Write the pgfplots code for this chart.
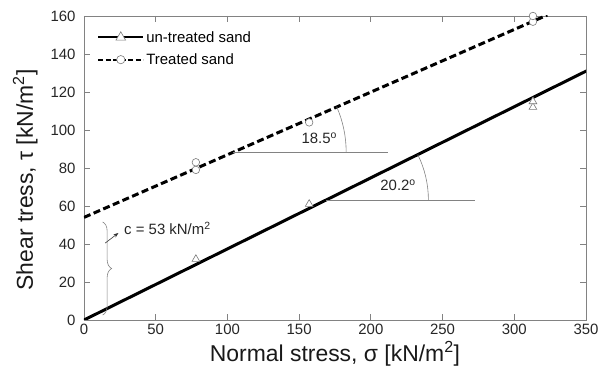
\documentclass[border=0pt]{standalone}
\usepackage{fontspec}
\setmainfont{Liberation Sans}
\usepackage{pgfplots}
\pgfplotsset{compat=1.18}
\usetikzlibrary{decorations.pathreplacing,arrows.meta}
\definecolor{axgray}{RGB}{130,130,130}
\definecolor{mkgray}{RGB}{120,120,120}
\begin{document}
\begin{tikzpicture}
\begin{axis}[
  scale only axis,
  width=502bp, height=304bp,
  xmin=0, xmax=350, ymin=0, ymax=160,
  xtick={0,50,...,350}, ytick={0,20,...,160},
  tick align=inside, major tick length=6bp,
  axis line style={axgray, line width=0.8pt},
  every tick/.style={axgray, line width=0.8pt},
  tick label style={font=\fontsize{15}{17}\selectfont, text=black!85},
  xticklabel style={yshift=-1bp},
  yticklabel style={xshift=-5bp},
  /pgf/number format/assume math mode=true,
  xlabel={Normal stress, σ [kN/m\textsuperscript{2}]},
  ylabel={Shear tress, τ [kN/m\textsuperscript{2}]},
  label style={font=\fontsize{23}{27}\selectfont, text=black!90},
  xlabel style={at={(axis description cs:0.5,0)}, anchor=base, yshift=-41bp},
  ylabel style={at={(axis description cs:-0.1016,0.4605)}, anchor=base, rotate=0},
  legend style={draw=none, fill=none, at={(rel axis cs:0,1)}, anchor=north west,
    xshift=10bp, yshift=-11bp,
    font=\fontsize{15}{17}\selectfont, row sep=6bp},
  legend cell align=left,
  legend image code/.code={
    \draw[#1] (0bp,0bp) -- (45bp,0bp);
    \draw[#1, mark repeat=1] plot coordinates {(22.5bp,0bp)};
  },
]
\addlegendimage{black, line width=2.2pt, mark=triangle*, mark options={solid, draw=mkgray, fill=white, line width=0.6pt, scale=1.6}, mark size=3.5pt}
\addlegendentry{un-treated sand}
\addlegendimage{black, line width=2.2pt, dash pattern=on 5bp off 2.5bp, mark=*, mark options={solid, draw=mkgray, fill=white, line width=0.6pt, scale=1.3}, mark size=3.2pt}
\addlegendentry{Treated sand}

% fitted lines
\addplot[black, line width=3bp, forget plot] coordinates {(0,0) (352,131.7)};
\addplot[black, line width=3bp, dash pattern=on 7bp off 3.5bp, forget plot] coordinates {(0,54) (323,160.5)};

% data points
\addplot[only marks, mark=triangle*, mark options={draw=mkgray, fill=white, line width=0.6pt}, mark size=4.5pt, forget plot]
  coordinates {(78,32) (157,61) (313,112) (313,115)};
\addplot[only marks, mark=*, mark options={draw=mkgray, fill=white, line width=0.6pt}, mark size=3.8pt, forget plot]
  coordinates {(78,79) (78,83) (157,104) (313,157) (313,160)};

% angle annotations
\draw[axgray, line width=0.6pt] (axis cs:104,88.4) -- (axis cs:212,88.4);
\draw[axgray, line width=0.6pt] (axis cs:104,88.4) ++(113bp,0) arc[start angle=0, end angle=23.6, radius=113bp];
\node[font=\fontsize{15}{17}\selectfont, text=black!85] at (axis cs:164,95.5) {18.5\textsuperscript{o}};
\draw[axgray, line width=0.6pt] (axis cs:169,63.2) -- (axis cs:272.7,63.2);
\draw[axgray, line width=0.6pt] (axis cs:169,63.2) ++(102bp,0) arc[start angle=0, end angle=26.4, radius=102bp];
\node[font=\fontsize{15}{17}\selectfont, text=black!85] at (axis cs:219,71) {20.2\textsuperscript{o}};

% cohesion brace
\draw[axgray, line width=0.6pt, decorate, decoration={brace, amplitude=9bp}] (axis cs:13,51.6) -- (axis cs:13,2.6);
\draw[black!80, line width=0.6pt, -{Stealth[length=5bp]}] (axis cs:14.8,40.5) -- (axis cs:24,45.8);
\node[anchor=west, font=\fontsize{15}{17}\selectfont, text=black!85, inner sep=0pt] at (axis cs:27.9,48.4) {c = 53 kN/m\textsuperscript{2}};
\end{axis}
\pgfresetboundingbox
\path[use as bounding box] (current axis.south west) ++(-84bp,-56bp) rectangle ++(600bp,376bp);
\end{tikzpicture}
\end{document}
